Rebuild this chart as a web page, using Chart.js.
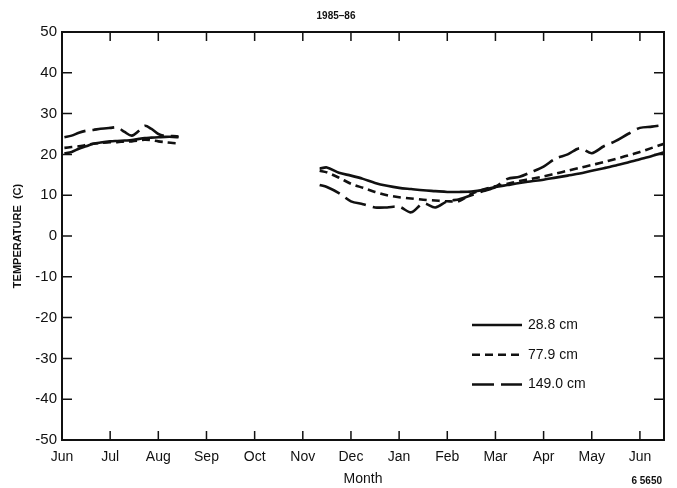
<!DOCTYPE html>
<html>
<head>
<meta charset="utf-8">
<script src="https://cdn.jsdelivr.net/npm/chart.js@4.4.1/dist/chart.umd.min.js"></script>
<style>
  html, body { margin: 0; padding: 0; background: #fff; }
  #wrap { width: 677px; height: 488px; }
</style>
</head>
<body>
<div id="wrap"><canvas id="temp-chart" width="677" height="488"></canvas></div>
<script>
// month axis: 0 = Jun 1985 ... 12 = Jun 1986
const monthLabels = ["Jun", "Jul", "Aug", "Sep", "Oct", "Nov", "Dec", "Jan", "Feb", "Mar", "Apr", "May", "Jun"];
const monthTicks = [0, 1, 2, 3, 4, 5, 6, 7, 8, 9, 10, 11, 12];
const tempTicks = [50, 40, 30, 20, 10, 0, -10, -20, -30, -40, -50];

// summer 1985 segment
const summerMonths = [0.05, 0.2, 0.35, 0.5, 0.65, 0.8, 1.0, 1.15, 1.3, 1.45, 1.6, 1.72, 1.85, 2.0, 2.15, 2.3, 2.42];
const summer288 = [20.2, 20.6, 21.4, 22.0, 22.6, 22.9, 23.2, 23.3, 23.4, 23.5, 23.8, 24.0, 24.1, 24.2, 24.3, 24.3, 24.2];
const summer779 = [21.6, 21.8, 22.0, 22.3, 22.6, 22.8, 23.0, 23.0, 23.2, 23.2, 23.4, 23.6, 23.5, 23.2, 23.0, 22.8, 22.7];
const summer1490 = [24.2, 24.6, 25.3, 25.8, 26.0, 26.3, 26.5, 26.6, 25.5, 24.6, 25.8, 27.0, 26.3, 25.0, 24.5, 24.5, 24.4];

// winter 1985-86 segment
const winterMonths = [5.35, 5.5, 5.75, 6.0, 6.25, 6.5, 6.75, 7.0, 7.25, 7.5, 7.75, 8.0, 8.25, 8.5, 8.75,
  9.0, 9.25, 9.5, 9.75, 10.0, 10.25, 10.5, 10.75, 11.0, 11.25, 11.5, 11.75, 12.0, 12.25, 12.5];
const winter288 = [16.5, 16.8, 15.5, 14.8, 14.0, 13.0, 12.3, 11.8, 11.5, 11.2, 11.0, 10.8, 10.8, 10.9, 11.3,
  12.0, 12.5, 13.0, 13.4, 13.8, 14.3, 14.8, 15.3, 16.0, 16.6, 17.3, 18.0, 18.8, 19.6, 20.5];
const winter779 = [16.0, 15.6, 14.3, 12.8, 11.8, 10.8, 10.0, 9.5, 9.2, 8.9, 8.7, 8.5, 8.6, 10.3, 11.4,
  12.2, 12.8, 13.5, 14.0, 14.6, 15.3, 16.0, 16.7, 17.4, 18.1, 18.9, 19.7, 20.6, 21.6, 22.6];
const winter1490 = [12.5, 12.0, 10.5, 8.5, 7.8, 7.0, 7.0, 7.2, 5.8, 8.0, 7.0, 8.5, 9.0, 10.0, 11.0,
  12.0, 14.0, 14.5, 15.7, 17.0, 19.0, 20.0, 21.5, 20.3, 22.0, 23.3, 25.0, 26.5, 26.8, 27.2];

const depthLabels = ["28.8 cm", "77.9 cm", "149.0 cm"];
const ink = "#111";

const toPoints = (summer, winter) => [
  ...summerMonths.map((m, i) => ({ x: m, y: summer[i] })),
  { x: 3.5, y: null },
  ...winterMonths.map((m, i) => ({ x: m, y: winter[i] })),
];

const dashes = [[], [8, 5], [22, 7]];

const datasets = [
  [summer288, winter288],
  [summer779, winter779],
  [summer1490, winter1490],
].map(([s, w], i) => ({
  label: depthLabels[i],
  data: toPoints(s, w),
  borderColor: ink,
  borderWidth: 2.6,
  borderDash: dashes[i],
  pointRadius: 0,
  tension: 0.3,
  spanGaps: false,
  fill: false,
}));

// frame with inward ticks, legend inside the plot, figure number
const framePlugin = {
  id: "frame",
  afterDraw(chart) {
    const ctx = chart.ctx;
    const { left, right, top, bottom } = chart.chartArea;
    const xs = chart.scales.x, ys = chart.scales.y;
    ctx.save();
    ctx.strokeStyle = ink;
    ctx.lineWidth = 2;
    ctx.strokeRect(left, top, right - left, bottom - top);
    ctx.lineWidth = 1.5;
    ctx.beginPath();
    monthTicks.forEach((m) => {
      const px = xs.getPixelForValue(m);
      ctx.moveTo(px, bottom); ctx.lineTo(px, bottom - 9);
      ctx.moveTo(px, top); ctx.lineTo(px, top + 9);
    });
    tempTicks.forEach((t) => {
      const py = ys.getPixelForValue(t);
      ctx.moveTo(left, py); ctx.lineTo(left + 10, py);
      ctx.moveTo(right, py); ctx.lineTo(right - 10, py);
    });
    ctx.stroke();

    // legend
    ctx.font = "14px 'Liberation Sans', Arial, sans-serif";
    ctx.fillStyle = ink;
    ctx.textBaseline = "middle";
    chart.data.datasets.forEach((ds, i) => {
      const y = ys.getPixelForValue(-21.8 - i * 7.3);
      const x0 = right - 192;
      ctx.lineWidth = 2.6;
      ctx.setLineDash(ds.borderDash);
      ctx.beginPath();
      ctx.moveTo(x0, y); ctx.lineTo(x0 + 50, y);
      ctx.stroke();
      ctx.setLineDash([]);
      ctx.fillText(ds.label, x0 + 56, y);
    });

    ctx.font = "bold 10px 'Liberation Sans', Arial, sans-serif";
    ctx.textAlign = "right";
    ctx.fillText("6 5650", right - 2, 481);
    ctx.restore();
  },
};

const chart = new Chart(document.getElementById("temp-chart").getContext("2d"), {
  type: "line",
  data: { datasets },
  options: {
    responsive: false,
    animation: false,
    layout: { padding: { left: 8, right: 13, top: 0, bottom: 0 } },
    plugins: {
      legend: { display: false },
      tooltip: { enabled: false },
      title: {
        display: true,
        text: "1985\u201386",
        color: ink,
        font: { family: "'Liberation Sans', Arial, sans-serif", size: 10, weight: "bold" },
        padding: { top: 10, bottom: 10 },
      },
    },
    scales: {
      x: {
        type: "linear",
        min: 0,
        max: 12.5,
        afterBuildTicks: (scale) => {
          scale.ticks = monthTicks.map((v) => ({ value: v }));
        },
        afterFit: (scale) => { scale.height = 48; },
        grid: { display: false, drawTicks: false },
        border: { display: false },
        ticks: {
          color: ink,
          padding: 9,
          autoSkip: false,
          maxRotation: 0,
          font: { family: "'Liberation Sans', Arial, sans-serif", size: 14 },
          callback: (v) => monthLabels[v],
        },
        title: {
          display: true,
          text: "Month",
          color: ink,
          font: { family: "'Liberation Sans', Arial, sans-serif", size: 14 },
          padding: { top: 2, bottom: 0 },
        },
      },
      y: {
        min: -50,
        max: 50,
        afterBuildTicks: (scale) => {
          scale.ticks = tempTicks.map((v) => ({ value: v }));
        },
        afterFit: (scale) => { scale.width = 54; },
        grid: { display: false, drawTicks: false },
        border: { display: false },
        ticks: {
          color: ink,
          padding: 5,
          font: { family: "'Liberation Sans', Arial, sans-serif", size: 15 },
        },
        title: {
          display: true,
          text: "TEMPERATURE  (C)",
          color: ink,
          font: { family: "'Liberation Sans', Arial, sans-serif", size: 11, weight: "bold" },
          padding: { top: 3, bottom: 2 },
        },
      },
    },
  },
  plugins: [framePlugin],
});
</script>
</body>
</html>
